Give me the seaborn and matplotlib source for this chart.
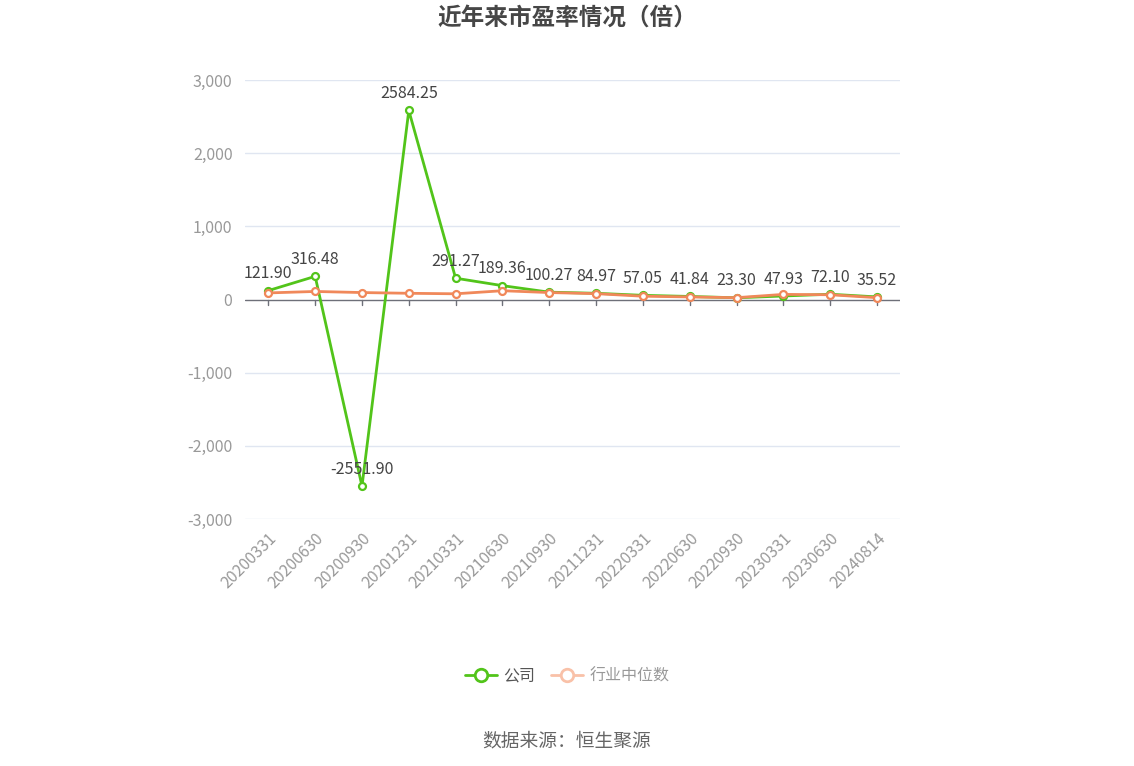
import matplotlib
matplotlib.use("Agg")
import matplotlib.pyplot as plt
import seaborn as sns
import pandas as pd
from matplotlib.lines import Line2D

dates = ["20200331", "20200630", "20200930", "20201231", "20210331", "20210630",
         "20210930", "20211231", "20220331", "20220630", "20220930", "20230331",
         "20230630", "20240814"]
company = [121.90, 316.48, -2551.90, 2584.25, 291.27, 189.36, 100.27, 84.97,
           57.05, 41.84, 23.30, 47.93, 72.10, 35.52]
industry = [90, 110, 95, 85, 78, 120, 95, 80, 45, 35, 25, 70, 65, 25]
yticks = [-3000, -2000, -1000, 0, 1000, 2000, 3000]

green = "#52c41a"
orange = "#f0885a"

sns.set_theme(style="white")
plt.rcParams["font.family"] = ["Noto Sans CJK SC", "DejaVu Sans"]

df = pd.DataFrame({"date": dates, "公司": company, "行业中位数": industry})
df["idx"] = range(len(dates))

fig = plt.figure(figsize=(11.34, 7.66), dpi=100)
ax = fig.add_axes([0.216, 0.3225, 0.578, 0.573])

sns.lineplot(data=df, x="idx", y="公司", ax=ax, color=green, linewidth=2,
             marker="o", markersize=5, markerfacecolor="white",
             markeredgecolor=green, markeredgewidth=1.6, zorder=3)
sns.lineplot(data=df, x="idx", y="行业中位数", ax=ax, color=orange, linewidth=2,
             marker="o", markersize=5, markerfacecolor="white",
             markeredgecolor=orange, markeredgewidth=1.6, zorder=4)

for i, v in enumerate(company):
    ax.annotate(f"{v:.2f}", (i, v), xytext=(0, 6), textcoords="offset points",
                ha="center", va="bottom", fontsize=11.5, color="#444444")

ax.set_xlim(-0.5, len(dates) - 0.5)
ax.set_ylim(-3000, 3000)
ax.set_yticks(yticks)
ax.set_yticklabels([f"{t:,}" for t in yticks], fontsize=11.5, color="#999999")
ax.set_xticks(range(len(dates)))
ax.set_xticklabels(dates, rotation=45, ha="right", rotation_mode="anchor",
                   fontsize=11.5, color="#999999")
ax.tick_params(axis="x", length=0, pad=8)
ax.tick_params(axis="y", length=0, pad=9)
ax.set_xlabel("")
ax.set_ylabel("")

for t in yticks:
    if t != 0:
        ax.axhline(t, color="#e0e6f1", linewidth=1, zorder=0)
ax.axhline(0, color="#6e7079", linewidth=1, zorder=1)
for i in range(len(dates)):
    ax.plot([i, i], [0, -70], color="#6e7079", linewidth=1, zorder=1)

for s in ax.spines.values():
    s.set_visible(False)

fig.text(0.5, 0.977, "近年来市盈率情况（倍）", ha="center", va="center",
         fontsize=17, fontweight="bold", color="#464646")

handles = [
    Line2D([0], [0], color=green, linewidth=2, marker="o", markersize=9,
           markerfacecolor="white", markeredgecolor=green, markeredgewidth=2),
    Line2D([0], [0], color="#f9c1a8", linewidth=2, marker="o", markersize=9,
           markerfacecolor="white", markeredgecolor="#f9c1a8", markeredgewidth=2),
]
leg = fig.legend(handles, ["公司", "行业中位数"], loc="center",
                 bbox_to_anchor=(0.5, 0.118), ncol=2, frameon=False,
                 fontsize=11.5, handlelength=2.0, columnspacing=1.0,
                 handletextpad=0.4)
leg.get_texts()[0].set_color("#555555")
leg.get_texts()[1].set_color("#999999")

fig.text(0.5, 0.033, "数据来源：恒生聚源", ha="center", va="center",
         fontsize=13.5, color="#666666")

fig.savefig("out.png", dpi=100)
